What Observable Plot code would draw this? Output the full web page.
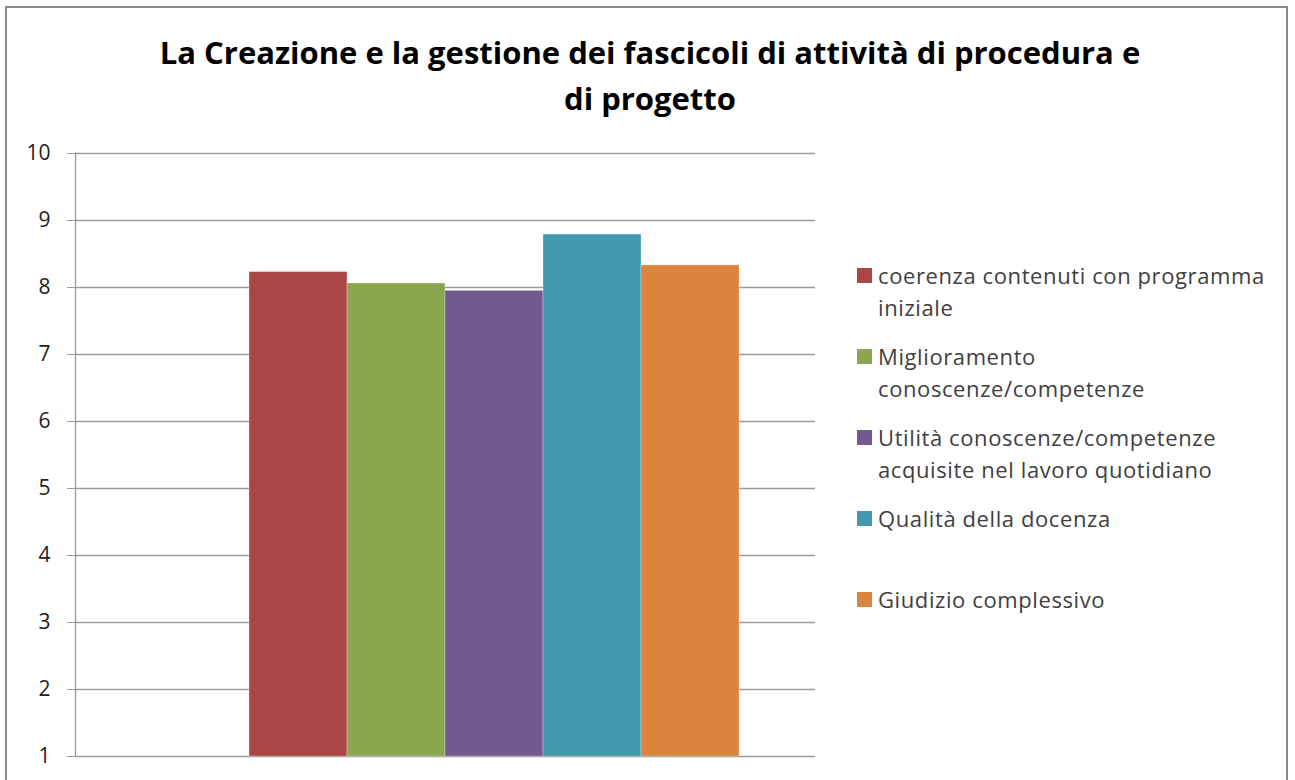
<!DOCTYPE html>
<html>
<head>
<meta charset="utf-8">
<script src="https://cdn.jsdelivr.net/npm/d3@7"></script>
<script src="https://cdn.jsdelivr.net/npm/@observablehq/plot@0.6"></script>
<style>
  html, body { margin: 0; padding: 0; background: #fff; }
  #root { position: relative; width: 1295px; height: 780px; overflow: hidden; font-family: "Open Sans", sans-serif; }
  #frame { position: absolute; left: 5px; top: 6px; width: 1283px; height: 800px; border: 2px solid #8a8a8a; box-sizing: border-box; }
  #title { position: absolute; left: 0; width: 1300px; top: 29px; text-align: center; font-weight: 700; font-size: 31px; line-height: 46px; color: #000; }
  #chart { position: absolute; left: 0; top: 0; }
  #legend { position: absolute; left: 857px; top: 0; color: #404040; font-size: 22px; letter-spacing: 0.6px; }
  .item { position: absolute; white-space: nowrap; }
  .sw { position: absolute; left: 0; width: 15px; height: 15px; }
  .lab { position: absolute; left: 21px; line-height: 32px; }
</style>
</head>
<body>
<div id="root">
  <div id="frame"></div>
  <div id="title">La Creazione e la gestione dei fascicoli di attività di procedura e<br>di progetto</div>
  <div id="chart"></div>
  <div id="legend"></div>
</div>
<script>
// Series (in slot order along the x axis); the first slot is an empty series
const seriesNames = [
  "",
  "coerenza contenuti con programma iniziale",
  "Miglioramento conoscenze/competenze",
  "Utilità conoscenze/competenze acquisite nel lavoro quotidiano",
  "Qualità della docenza",
  "Giudizio complessivo"
];
const seriesValues = [null, 8.23, 8.06, 7.95, 8.79, 8.33];
const seriesColors = ["#ffffff", "#AA4744", "#8AA64F", "#725990", "#4399B0", "#DB843D"];
const yTicks = [1, 2, 3, 4, 5, 6, 7, 8, 9, 10];

// Legend order and wrapped lines
const legendOrder = [1, 2, 3, 4, 0, 5];
const legendLines = {
  1: ["coerenza contenuti con programma", "iniziale"],
  2: ["Miglioramento", "conoscenze/competenze"],
  3: ["Utilità conoscenze/competenze", "acquisite nel lavoro quotidiano"],
  4: ["Qualità della docenza"],
  0: [""],
  5: ["Giudizio complessivo"]
};

const data = seriesNames.map((name, i) => ({name, value: seriesValues[i], key: "s" + i}))
  .filter(d => d.value != null);
const keys = seriesNames.map((n, i) => "s" + i);

const plot = Plot.plot({
  width: 830,
  height: 780,
  marginLeft: 75,
  marginRight: 15,
  marginTop: 153,
  marginBottom: 24,
  style: {fontFamily: "Open Sans, sans-serif", fontSize: "21px", color: "#000", background: "transparent"},
  x: {domain: keys, paddingInner: 0, paddingOuter: 0.75, axis: null},
  y: {domain: [1, 10], ticks: yTicks, tickSize: 8, tickPadding: 17, tickFormat: d => String(d), label: null},
  color: {domain: keys, range: seriesColors},
  marks: [
    Plot.ruleY(yTicks, {stroke: "#9a9a9a", strokeWidth: 1.3}),
    Plot.frame({anchor: "left", stroke: "#9a9a9a", strokeWidth: 1.3}),
    Plot.barY(data, {x: "key", y1: 1, y2: "value", fill: "key", stroke: "#ffffff", strokeOpacity: 0.3, strokeWidth: 1}),
    Plot.axisY({ticks: yTicks, tickSize: 8, tickPadding: 17, stroke: "#9a9a9a", fill: "#222", fontSize: 21})
  ]
});
document.getElementById("chart").appendChild(plot);

// Legend
const legend = document.getElementById("legend");
const rowTops = {1: 259, 2: 340, 3: 421, 4: 502, 0: 543, 5: 583};
legendOrder.forEach(i => {
  if (!seriesNames[i]) return;
  const item = document.createElement("div");
  item.className = "item";
  item.style.top = rowTops[i] + "px";
  const sw = document.createElement("div");
  sw.className = "sw";
  sw.style.background = seriesColors[i];
  sw.style.top = "9px";
  item.appendChild(sw);
  const lab = document.createElement("div");
  lab.className = "lab";
  lab.innerHTML = legendLines[i].join("<br>");
  item.appendChild(lab);
  legend.appendChild(item);
});
</script>
</body>
</html>
